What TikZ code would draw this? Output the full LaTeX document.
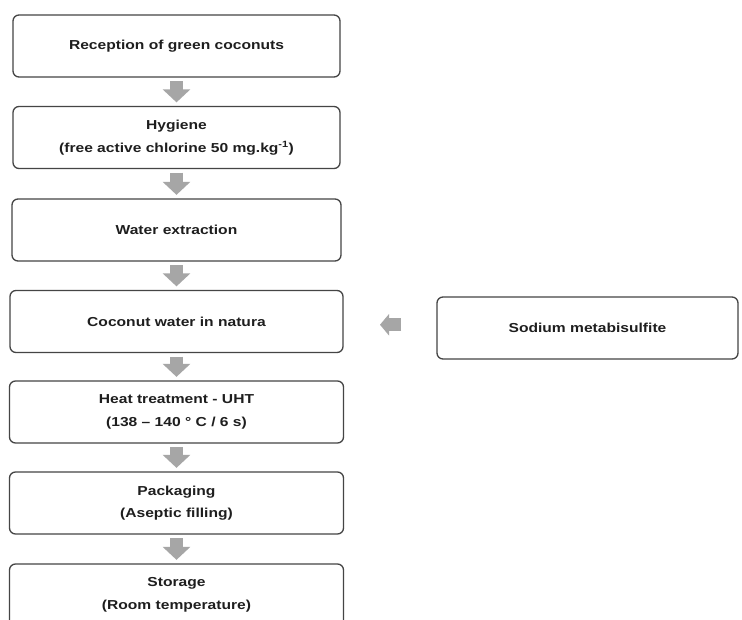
\documentclass[tikz,border=0pt]{standalone}
\usepackage{fontspec}
\setmainfont{Liberation Sans}[FakeStretch=1.2]
\usepackage{tikz}
\usetikzlibrary{calc,arrows.meta}
\definecolor{boxline}{HTML}{454545}
\definecolor{arrowgray}{HTML}{A6A6A6}
\definecolor{textgray}{HTML}{1E1E1E}

\begin{document}
\begin{tikzpicture}[x=1pt,y=-1pt]
\pgfmathsetmacro{\xMid}{176.5}

\tikzstyle{stepbox}=[draw=boxline,line width=1.3pt,rounded corners=6pt,minimum height=62pt,align=center,text=textgray,font=\fontsize{13}{22.5}\selectfont\bfseries]
\tikzstyle{flowarrow}=[draw=arrowgray,line width=13pt,-{Triangle[length=13pt,width=27pt]},shorten <=3.5pt,shorten >=3.5pt]
\tikzstyle{sidearrow}=[draw=arrowgray,line width=13pt,-{Triangle[length=9pt,width=21pt]}]
\clip (0,0) rectangle (742,619);
\fill[white] (0,0) rectangle (742,619);
\node[stepbox,minimum width=327pt] (reception) at (\xMid,46) {Reception of green coconuts};
\node[stepbox,minimum width=327pt] (hygiene) at (\xMid,137.5) {Hygiene\\(free active chlorine 50 mg.kg\textsuperscript{-1})};
\node[stepbox,minimum width=329pt] (extraction) at (\xMid,230) {Water extraction};
\node[stepbox,minimum width=333pt] (natura) at (\xMid,321.5) {Coconut water in natura};
\node[stepbox,minimum width=334pt] (uht) at (\xMid,412) {Heat treatment - UHT\\(138 – 140 ° C / 6 s)};
\node[stepbox,minimum width=334pt] (packaging) at (\xMid,503) {Packaging\\(Aseptic filling)};
\node[stepbox,minimum width=334pt] (storage) at (\xMid,595) {Storage\\(Room temperature)};
\node[stepbox,minimum width=301pt] (sodium) at (587.5,328) {Sodium metabisulfite};
\draw[flowarrow] (reception.south) -- (hygiene.north);
\draw[flowarrow] (hygiene.south) -- (extraction.north);
\draw[flowarrow] (extraction.south) -- (natura.north);
\draw[flowarrow] (natura.south) -- (uht.north);
\draw[flowarrow] (uht.south) -- (packaging.north);
\draw[flowarrow] (packaging.south) -- (storage.north);
\path (natura.east) -- (sodium.west) coordinate[pos=0.5] (addpoint);
\draw[sidearrow] ([xshift=11pt]addpoint) -- ([xshift=-10pt]addpoint);
\end{tikzpicture}
\end{document}
